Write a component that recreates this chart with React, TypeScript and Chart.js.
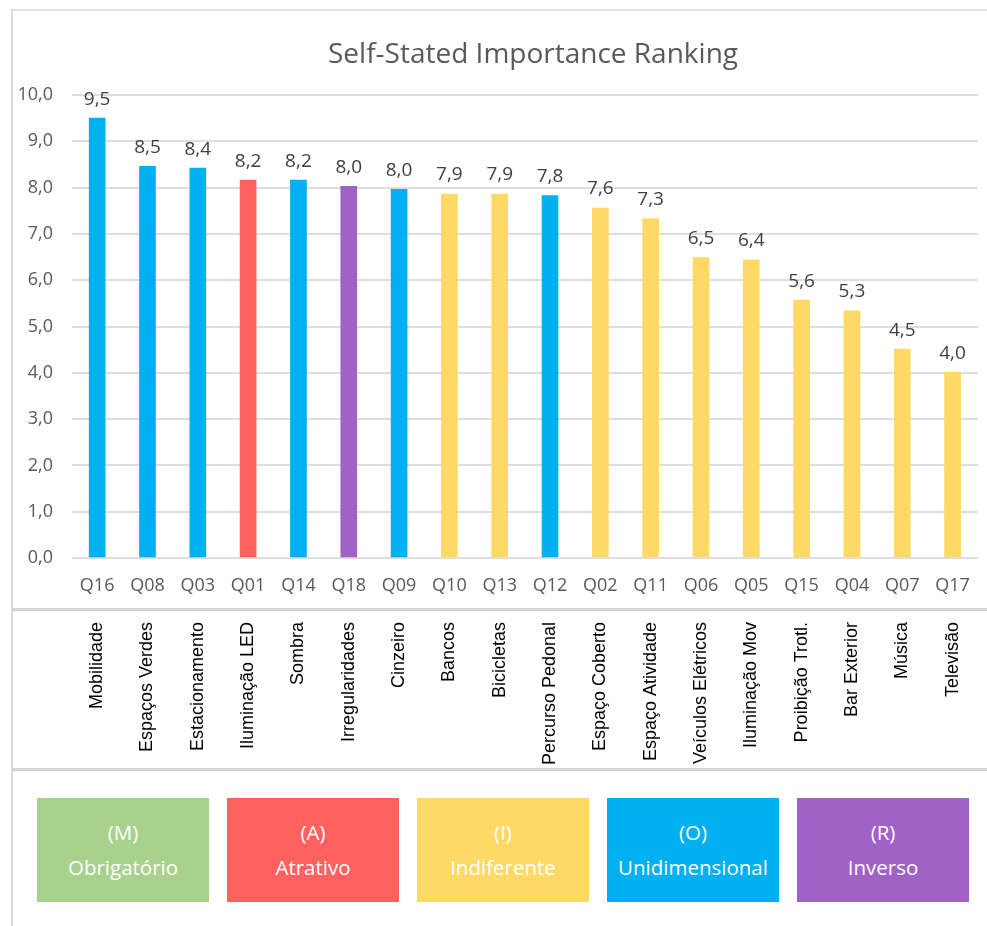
import React, { useEffect, useRef } from "react";
import { Chart, registerables } from "chart.js";

Chart.register(...registerables);

const titleText = "Self-Stated Importance Ranking";
const codes = ["Q16", "Q08", "Q03", "Q01", "Q14", "Q18", "Q09", "Q10", "Q13", "Q12", "Q02", "Q11", "Q06", "Q05", "Q15", "Q04", "Q07", "Q17"];
const names = ["Mobilidade", "Espaços Verdes", "Estacionamento", "Iluminação LED", "Sombra", "Irregularidades", "Cinzeiro", "Bancos", "Bicicletas", "Percurso Pedonal", "Espaço Coberto", "Espaço Atividade", "Veículos Elétricos", "Iluminação Mov", "Proibição Trotl.", "Bar Exterior", "Música", "Televisão"];
const scores = [9.5, 8.46, 8.42, 8.16, 8.16, 8.03, 7.96, 7.86, 7.86, 7.83, 7.56, 7.33, 6.49, 6.44, 5.57, 5.34, 4.51, 4.01];
const classes = ["O", "O", "O", "A", "O", "R", "O", "I", "I", "O", "I", "I", "I", "I", "I", "I", "I", "I"];
const classKeys = ["M", "A", "I", "O", "R"];
const classNames = ["Obrigatório", "Atrativo", "Indiferente", "Unidimensional", "Inverso"];
const classColors = ["#A9D18E", "#FF6161", "#FFD966", "#00B0F0", "#A162C6"];
const yMin = 0;
const yMax = 10;
const yStep = 1;

const fmt = (v: number) => v.toFixed(1).replace(".", ",");

const dataLabelPlugin = {
  id: "dataLabels",
  afterDatasetsDraw(chart: any) {
    const ctx = chart.ctx;
    const meta = chart.getDatasetMeta(0);
    ctx.save();
    ctx.font = "19px 'Open Sans'";
    ctx.fillStyle = "#404040";
    ctx.textAlign = "center";
    ctx.textBaseline = "middle";
    meta.data.forEach((bar: any, i: number) => {
      ctx.fillText(fmt(scores[i]), bar.x, bar.y - 19);
    });
    ctx.restore();
  },
};

export default function App() {
  const ref = useRef<HTMLCanvasElement | null>(null);

  useEffect(() => {
    if (!ref.current) return;
    const colors = classes.map((c) => classColors[classKeys.indexOf(c)]);
    const chart = new Chart(ref.current, {
      type: "bar",
      data: {
        labels: codes,
        datasets: [
          {
            data: scores,
            backgroundColor: colors,
            borderWidth: 0,
            barThickness: 16,
            xAxisID: "x",
            yAxisID: "y",
          },
        ],
      },
      options: {
        animation: false,
        responsive: false,
        maintainAspectRatio: false,
        layout: { padding: { top: 85, right: 5, left: 0, bottom: 0 } },
        plugins: {
          legend: { display: false },
          title: { display: false },
          tooltip: { enabled: false },
        },
        scales: {
          y: {
            min: yMin,
            max: yMax,
            ticks: {
              stepSize: yStep,
              padding: 19,
              color: "#595959",
              font: { family: "'Open Sans'", size: 18 },
              callback: (v: any) => fmt(Number(v)),
            },
            grid: { color: "#dedede", lineWidth: 2, drawTicks: false },
            border: { display: false },
            afterFit: (s: any) => {
              s.width = 60;
            },
          },
          x: {
            type: "category",
            offset: true,
            grid: { display: false, drawTicks: false },
            border: { display: false },
            ticks: {
              padding: 17,
              color: "#595959",
              font: { family: "'Open Sans'", size: 18 },
              maxRotation: 0,
              autoSkip: false,
            },
            afterFit: (s: any) => {
              s.height = 52;
            },
          },
          x2: {
            type: "category",
            labels: names,
            position: "bottom",
            offset: true,
            grid: { display: false, drawTicks: false },
            border: { display: false },
            ticks: {
              padding: 12,
              color: "#000000",
              font: { family: "'Liberation Sans', Arial", size: 18 },
              minRotation: 90,
              maxRotation: 90,
              autoSkip: false,
            },
            afterFit: (s: any) => {
              s.height = 160;
            },
          },
        },
      } as any,
      plugins: [dataLabelPlugin],
    });
    return () => chart.destroy();
  }, []);

  const lineColor = "#d4d4d4";

  return (
    <div style={{ position: "absolute", left: 0, top: 0, width: 987, height: 926, background: "#fff", overflow: "hidden" }}>
      <canvas ref={ref} width={975} height={760} style={{ position: "absolute", left: 12, top: 10, width: 975, height: 760 }} />
      <div
        style={{
          position: "absolute",
          left: 133,
          width: 800,
          top: 32,
          textAlign: "center",
          fontFamily: "'Open Sans'",
          fontSize: 28,
          lineHeight: "40px",
          color: "#595959",
        }}
      >
        {titleText}
      </div>
      <div style={{ position: "absolute", left: 11, top: 9, width: 976, height: 2, background: "#e2e2e2" }} />
      <div style={{ position: "absolute", left: 11, top: 9, width: 2, height: 917, background: "#dadada" }} />
      <div style={{ position: "absolute", left: 11, top: 608, width: 976, height: 3, background: lineColor }} />
      <div style={{ position: "absolute", left: 11, top: 768, width: 976, height: 3, background: lineColor }} />
      {classKeys.map((k, i) => (
        <div
          key={k}
          style={{
            position: "absolute",
            left: 37 + i * 190,
            top: 798,
            width: 172,
            height: 104,
            background: classColors[i],
            color: "#ffffff",
            fontFamily: "'Open Sans'",
            fontSize: 20.5,
            display: "flex",
            flexDirection: "column",
            alignItems: "center",
            justifyContent: "center",
            lineHeight: "35px",
          }}
        >
          <div>({k})</div>
          <div>{classNames[i]}</div>
        </div>
      ))}
    </div>
  );
}
